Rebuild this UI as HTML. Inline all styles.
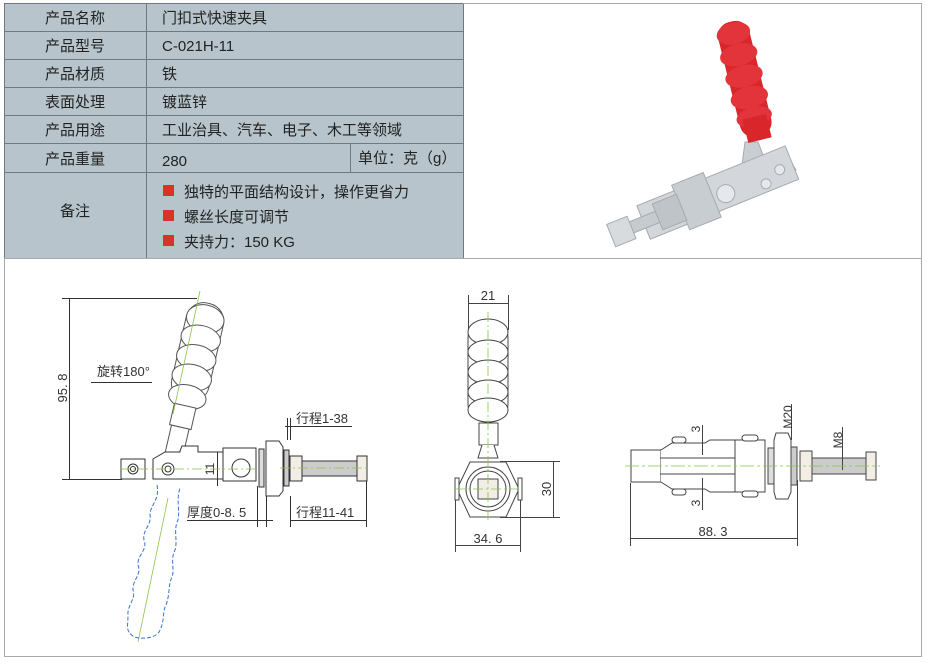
<!DOCTYPE html>
<html><head><meta charset="utf-8"><style>
body{margin:0;width:927px;height:663px;background:#fff;overflow:hidden;font-family:"Liberation Sans","Noto Sans CJK SC",sans-serif}
svg{position:absolute;left:0;top:0}
</style></head><body>
<svg width="927" height="663" viewBox="0 0 927 663" font-family="Liberation Sans, Noto Sans CJK SC, sans-serif">
<!-- table -->
<rect x="4" y="3" width="459" height="255" fill="#b7c4cb"/>
<g stroke="#6f7a80" stroke-width="1" fill="none">
<rect x="4.5" y="3.5" width="459" height="255"/>
<line x1="4" y1="31.5" x2="463" y2="31.5"/><line x1="4" y1="59.5" x2="463" y2="59.5"/>
<line x1="4" y1="87.5" x2="463" y2="87.5"/><line x1="4" y1="115.5" x2="463" y2="115.5"/>
<line x1="4" y1="143.5" x2="463" y2="143.5"/><line x1="4" y1="172.5" x2="463" y2="172.5"/>
<line x1="146.5" y1="3" x2="146.5" y2="258"/><line x1="350.5" y1="143" x2="350.5" y2="172"/>
</g>
<line x1="463" y1="3.5" x2="922" y2="3.5" stroke="#aaa"/>
<line x1="921.5" y1="3" x2="921.5" y2="657" stroke="#aaa"/>
<rect x="4.5" y="258.5" width="917" height="398" fill="none" stroke="#aaa"/>
<g font-size="15" fill="#222">
<text x="75" y="23" text-anchor="middle">产品名称</text>
<text x="75" y="51" text-anchor="middle">产品型号</text>
<text x="75" y="79" text-anchor="middle">产品材质</text>
<text x="75" y="107" text-anchor="middle">表面处理</text>
<text x="75" y="135" text-anchor="middle">产品用途</text>
<text x="75" y="164" text-anchor="middle">产品重量</text>
<text x="75" y="216" text-anchor="middle">备注</text>
<text x="162" y="23">门扣式快速夹具</text>
<text x="162" y="51">C-021H-11</text>
<text x="162" y="79">铁</text>
<text x="162" y="107">镀蓝锌</text>
<text x="162" y="135">工业治具、汽车、电子、木工等领域</text>
<text x="162" y="166">280</text>
<text x="358" y="163">单位：克（g）</text>
<text x="184" y="197">独特的平面结构设计，操作更省力</text>
<text x="184" y="222">螺丝长度可调节</text>
<text x="184" y="247">夹持力：150 KG</text>
</g>
<rect x="163" y="185" width="11" height="11" fill="#d7332b"/>
<rect x="163" y="210" width="11" height="11" fill="#d7332b"/>
<rect x="163" y="235" width="11" height="11" fill="#d7332b"/>

<!-- photo -->
<g>
<polygon points="745,142 758,142 768,168 790,160 796,170 780,182 760,190 740,180" fill="#c9ced3" stroke="#a5abb0"/>
<g transform="rotate(-22 710 200)">
<rect x="640" y="178" width="160" height="36" fill="#d3d7db" stroke="#a5abb0"/>
<rect x="680" y="172" width="34" height="48" fill="#c8cdd2" stroke="#a5abb0"/>
<rect x="655" y="182" width="26" height="28" fill="#bfc4c9" stroke="#a5abb0"/>
<rect x="625" y="190" width="30" height="12" fill="#c6cbd0" stroke="#a5abb0"/>
<rect x="605" y="184" width="22" height="24" fill="#d8dbde" stroke="#a5abb0"/>
<circle cx="727" cy="200" r="9" fill="#e6e9ec" stroke="#a5abb0"/>
<circle cx="768" cy="206" r="5" fill="#e6e9ec" stroke="#a5abb0"/>
<circle cx="786" cy="198" r="5" fill="#e6e9ec" stroke="#a5abb0"/>
</g>
<g transform="rotate(-14 745 80)">
<rect x="729" y="20" width="32" height="118" rx="14" fill="#d8262a"/>
<ellipse cx="745" cy="32" rx="17" ry="11" fill="#e2343a"/>
<ellipse cx="745" cy="54" rx="19" ry="11" fill="#e2343a"/>
<ellipse cx="745" cy="76" rx="19" ry="11" fill="#e2343a"/>
<ellipse cx="745" cy="98" rx="19" ry="11" fill="#e2343a"/>
<ellipse cx="745" cy="118" rx="18" ry="10" fill="#e2343a"/>
<rect x="733" y="118" width="24" height="24" fill="#d8262a"/>
</g>
</g>

<!-- LEFT DRAWING -->
<g stroke="#333" stroke-width="1" fill="none">
<line x1="62" y1="298.5" x2="197" y2="298.5"/>
<line x1="62" y1="479.5" x2="122" y2="479.5"/>
<line x1="69.5" y1="298" x2="69.5" y2="479"/>
<line x1="91" y1="382.5" x2="152" y2="382.5"/>
<g transform="rotate(13 185 380)" stroke="#555" fill="#fff">
<rect x="172" y="300" width="38" height="100" rx="18"/>
<ellipse cx="191" cy="316" rx="19" ry="14"/>
<ellipse cx="191" cy="336" rx="20" ry="13"/>
<ellipse cx="191" cy="356" rx="20" ry="13"/>
<ellipse cx="191" cy="376" rx="20" ry="13"/>
<ellipse cx="191" cy="396" rx="19" ry="12"/>
<rect x="180" y="405" width="22" height="22"/>
<rect x="182" y="427" width="18" height="30"/>
</g>
<path d="M121 459 H145 V479 H121 Z" fill="#fff"/>
<path d="M153 479 V459 L165 452 H180 V451 L182 446 H198 V452 H223 V479 Z" fill="#fff"/>
<circle cx="133" cy="469" r="5"/><circle cx="133" cy="469" r="2.5"/>
<circle cx="168" cy="469" r="6"/><circle cx="168" cy="469" r="3"/>
<path d="M223 448 H256 V481 H223 Z" fill="#fff"/>
<circle cx="241" cy="468" r="9"/>
<line x1="217.5" y1="452" x2="217.5" y2="486"/>
<rect x="259" y="449" width="5" height="38" fill="#ddd"/>
<path d="M266 441 H279 L283 447 V491 L279 496 H266 Z" fill="#fff"/>
<rect x="284" y="450" width="5" height="36" fill="#ccc"/>
<rect x="290" y="456" width="12" height="25" fill="#f2eee6"/>
<rect x="302" y="461" width="55" height="15" fill="#ccc"/>
<rect x="357" y="456" width="10" height="25" fill="#f2eee6"/>
<line x1="285" y1="426.5" x2="352" y2="426.5"/>
<line x1="287.5" y1="418" x2="287.5" y2="440"/><line x1="290.5" y1="418" x2="290.5" y2="440"/>
<line x1="187" y1="520.5" x2="273" y2="520.5"/>
<line x1="257.5" y1="486" x2="257.5" y2="527"/><line x1="266.5" y1="496" x2="266.5" y2="527"/>
<line x1="290" y1="520.5" x2="367" y2="520.5"/>
<line x1="290.5" y1="496" x2="290.5" y2="527"/><line x1="366.5" y1="481" x2="366.5" y2="527"/>
</g>
<g stroke="#8bc34a" stroke-width="0.8" fill="none">
<line x1="200" y1="291" x2="173" y2="414"/>
<line x1="168" y1="498" x2="138" y2="642"/>
<line x1="120" y1="469" x2="260" y2="469" stroke-dasharray="10 3 2 3"/>
<line x1="280" y1="468" x2="370" y2="468" stroke-dasharray="10 3 2 3"/>
</g>
<path d="M157 485 C160 500 150 505 150 515 C152 525 142 530 144 540 C148 550 137 555 138 565 C142 575 132 580 133 590 C136 600 127 605 128 615 C128 628 125 630 134 637 C145 640 158 637 160 630 C165 620 162 612 166 605 C170 595 168 585 172 577 C175 568 170 560 175 550 C178 540 173 530 178 520 C180 510 176 500 180 488" fill="none" stroke="#3a74c9" stroke-width="1" stroke-dasharray="4 2"/>
<g font-size="13" fill="#333">
<text x="97" y="376">旋转180°</text>
<text x="296" y="423">行程1-38</text>
<text x="187" y="517">厚度0-8. 5</text>
<text x="296" y="517">行程11-41</text>
<text transform="translate(67 388) rotate(-90)" text-anchor="middle">95. 8</text>
<text transform="translate(214 469) rotate(-90)" text-anchor="middle" font-size="12">11</text>
</g>

<!-- MIDDLE DRAWING -->
<g stroke="#444" stroke-width="1" fill="#fff">
<line x1="468.5" y1="295" x2="468.5" y2="330"/><line x1="508.5" y1="295" x2="508.5" y2="330"/>
<line x1="468" y1="303.5" x2="508" y2="303.5"/>
<rect x="468" y="320" width="40" height="102" rx="18"/>
<ellipse cx="488" cy="332" rx="20" ry="13"/>
<ellipse cx="488" cy="352" rx="20" ry="12"/>
<ellipse cx="488" cy="372" rx="20" ry="12"/>
<ellipse cx="488" cy="392" rx="20" ry="12"/>
<ellipse cx="488" cy="410" rx="20" ry="12"/>
<rect x="479" y="423" width="19" height="22"/>
<path d="M482 445 L478 458 H498 L494 445"/>
<polygon points="457,489 470,462 506,462 519,489 506,517 470,517"/>
<rect x="455" y="478" width="4" height="22"/><rect x="518" y="478" width="4" height="22"/>
<circle cx="488" cy="489" r="22"/><circle cx="488" cy="489" r="18"/>
<rect x="478" y="479" width="20" height="20" fill="#f2eee6"/>
<line x1="500" y1="461.5" x2="560" y2="461.5"/><line x1="500" y1="517.5" x2="560" y2="517.5"/>
<line x1="553.5" y1="461" x2="553.5" y2="517"/>
<line x1="455.5" y1="500" x2="455.5" y2="552"/><line x1="520.5" y1="500" x2="520.5" y2="552"/>
<line x1="455" y1="545.5" x2="520" y2="545.5"/>
</g>
<g stroke="#8bc34a" stroke-width="0.8" stroke-dasharray="10 3 2 3">
<line x1="488" y1="312" x2="488" y2="520"/><line x1="455" y1="489" x2="522" y2="489"/>
</g>
<g font-size="13" fill="#333">
<text x="488" y="300" text-anchor="middle">21</text>
<text x="488" y="543" text-anchor="middle">34. 6</text>
<text transform="translate(551 489) rotate(-90)" text-anchor="middle">30</text>
</g>

<!-- RIGHT DRAWING -->
<g stroke="#444" stroke-width="1" fill="#fff">
<rect x="631" y="450" width="30" height="32"/>
<path d="M661 450 L672 443 H705 L710 440 H765 V492 H710 L705 489 H672 L661 482"/>
<line x1="660" y1="458" x2="760" y2="458" fill="none"/><line x1="660" y1="474" x2="760" y2="474" fill="none"/>
<rect x="735" y="440" width="30" height="52"/>
<rect x="672" y="437" width="14" height="6" rx="3"/><rect x="672" y="489" width="14" height="6" rx="3"/>
<rect x="742" y="435" width="16" height="6" rx="3"/><rect x="742" y="491" width="16" height="6" rx="3"/>
<rect x="768" y="448" width="6" height="36" fill="#ddd"/>
<path d="M776 433 H788 L791 440 V492 L788 499 H776 L774 492 V440 Z"/>
<rect x="791" y="447" width="6" height="38" fill="#ccc"/>
<rect x="800" y="451" width="12" height="30" fill="#f2eee6"/>
<rect x="812" y="458" width="54" height="16" fill="#ccc"/>
<rect x="866" y="452" width="10" height="28" fill="#f2eee6"/>
<line x1="630.5" y1="483" x2="630.5" y2="546"/><line x1="797.5" y1="480" x2="797.5" y2="546"/>
<line x1="630" y1="538.5" x2="797" y2="538.5"/>
<line x1="791.5" y1="404" x2="791.5" y2="440"/><line x1="842.5" y1="427" x2="842.5" y2="470"/>
<line x1="702.5" y1="425" x2="702.5" y2="455"/><line x1="702.5" y1="478" x2="702.5" y2="510"/>
</g>
<line x1="625" y1="466" x2="880" y2="466" stroke="#8bc34a" stroke-width="0.8" stroke-dasharray="14 3 3 3"/>
<g font-size="12" fill="#333">
<text x="713" y="536" text-anchor="middle" font-size="13">88. 3</text>
<text transform="translate(792 417) rotate(-90)" text-anchor="middle">M20</text>
<text transform="translate(842 440) rotate(-90)" text-anchor="middle">M8</text>
<text transform="translate(700 429) rotate(-90)" text-anchor="middle">3</text>
<text transform="translate(700 503) rotate(-90)" text-anchor="middle">3</text>
</g>
</svg>
</body></html>
